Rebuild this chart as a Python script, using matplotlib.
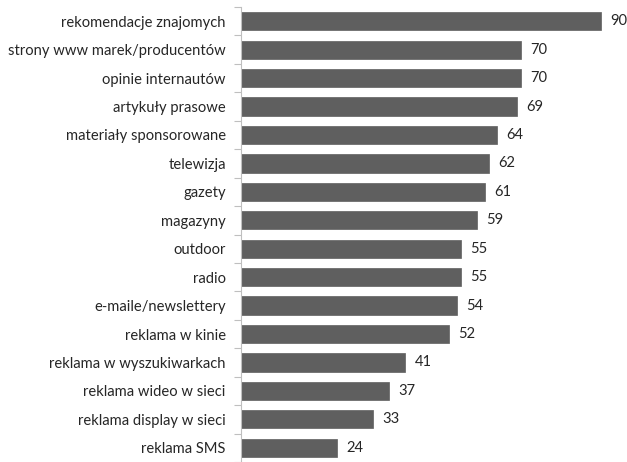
import matplotlib
matplotlib.use("Agg")
import matplotlib.pyplot as plt

categories = ["rekomendacje znajomych", "strony www marek/producentów", "opinie internautów",
              "artykuły prasowe", "materiały sponsorowane", "telewizja", "gazety", "magazyny",
              "outdoor", "radio", "e-maile/newslettery", "reklama w kinie",
              "reklama w wyszukiwarkach", "reklama wideo w sieci", "reklama display w sieci",
              "reklama SMS"]
values = [90, 70, 70, 69, 64, 62, 61, 59, 55, 55, 54, 52, 41, 37, 33, 24]

FONT = ['Lato', 'DejaVu Sans']
FS = 10.6
TXT = "#262626"

W, H = 627, 462
fig = plt.figure(figsize=(W/100, H/100), dpi=100)
ax = fig.add_axes([241/W, 0/H, 384/W, 455/H])

n = len(categories)
ypos = list(range(n))
ax.barh(ypos, values, height=0.64, color="#5f5f5f", edgecolor="#5f5f5f", linewidth=0.5)
ax.set_ylim(n - 0.5, -0.5)
ax.set_xlim(0, 96)
for y, v in zip(ypos, values):
    ax.text(v + 2.4, y, str(v), va="center", ha="left", fontsize=FS, color=TXT, family=FONT)

ax.set_yticks(ypos)
ax.set_yticklabels(categories, fontsize=FS, color=TXT, family=FONT)
ax.tick_params(axis="y", which="major", length=0, pad=11)
ax.set_yticks([i - 0.5 for i in range(n + 1)], minor=True)
ax.tick_params(axis="y", which="minor", length=5, color="#bfbfbf", width=0.8)
ax.set_xticks([])
for s in ["top", "right", "bottom"]:
    ax.spines[s].set_visible(False)
ax.spines["left"].set_color("#bfbfbf")
ax.spines["left"].set_linewidth(0.8)

fig.savefig("out.png", dpi=100)
